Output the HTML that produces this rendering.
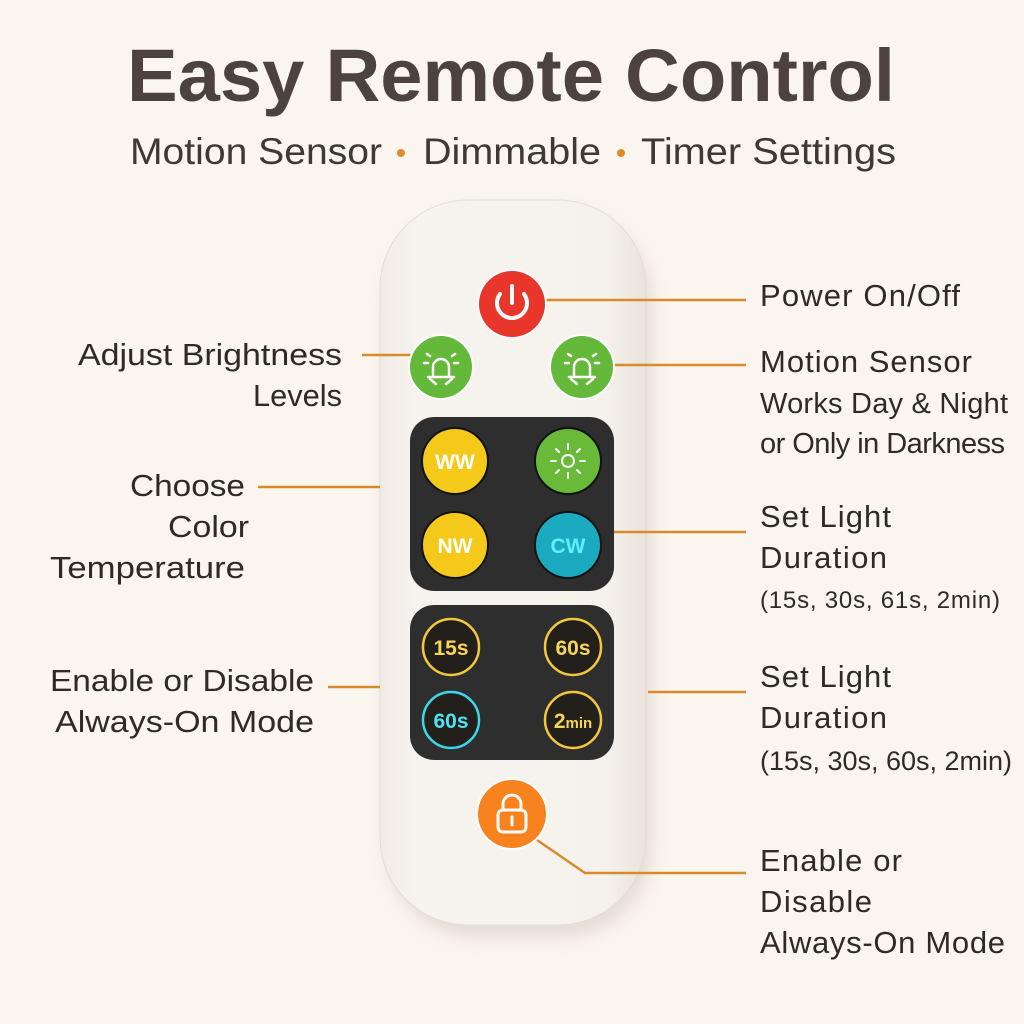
<!DOCTYPE html>
<html><head><meta charset="utf-8"><style>
html,body{margin:0;padding:0;background:#fbf5ef;}
svg{display:block}
text{font-family:"Liberation Sans",sans-serif;fill:#2e2a26}
</style></head><body>
<svg width="1024" height="1024" viewBox="0 0 1024 1024">
<defs>
<linearGradient id="body" x1="0" x2="1"><stop offset="0" stop-color="#f1ece6"/><stop offset="0.15" stop-color="#f7f3ee"/><stop offset="0.85" stop-color="#f5f1ec"/><stop offset="1" stop-color="#e9e3dc"/></linearGradient>
<filter id="sh" x="-20%" y="-10%" width="140%" height="130%"><feGaussianBlur stdDeviation="8"/></filter>
</defs>
<rect width="1024" height="1024" fill="#fbf5ef"/>
<text x="511" y="101" font-size="74" font-weight="bold" text-anchor="middle" textLength="768" lengthAdjust="spacingAndGlyphs" style="fill:#4b433c">Easy Remote Control</text>
<text x="130" y="164" font-size="37" textLength="252" lengthAdjust="spacingAndGlyphs" style="fill:#3e3934">Motion Sensor</text>
<circle cx="401" cy="153" r="4" fill="#e08a28"/>
<text x="423" y="164" font-size="37" textLength="178" lengthAdjust="spacingAndGlyphs" style="fill:#3e3934">Dimmable</text>
<circle cx="621" cy="153" r="4" fill="#e08a28"/>
<text x="641" y="164" font-size="37" textLength="255" lengthAdjust="spacingAndGlyphs" style="fill:#3e3934">Timer Settings</text>

<!-- remote -->
<rect x="386" y="212" width="266" height="725" rx="90" fill="#cfc6bb" opacity="0.5" filter="url(#sh)"/>
<rect x="380" y="200" width="266" height="725" rx="88" fill="url(#body)" stroke="#e4ddd5" stroke-width="1"/>

<!-- connectors -->
<g stroke="#d98a2b" stroke-width="2.5" fill="none">
<line x1="545" y1="300" x2="746" y2="300"/>
<line x1="362" y1="355" x2="412" y2="355"/>
<line x1="613" y1="365" x2="746" y2="365"/>
<line x1="258" y1="487" x2="380" y2="487"/>
<line x1="614" y1="532" x2="746" y2="532"/>
<line x1="328" y1="687" x2="380" y2="687"/>
<line x1="648" y1="692" x2="746" y2="692"/>
<polyline points="537,840 585,873 746,873"/>
</g>

<!-- power -->
<circle cx="512" cy="304" r="35" fill="#fff"/>
<circle cx="512" cy="304" r="33" fill="#e8362a"/>
<path d="M500 294 A15 15 0 1 0 524 294" stroke="#fff" stroke-width="4" fill="none" stroke-linecap="round"/>
<line x1="512" y1="286" x2="512" y2="303" stroke="#fff" stroke-width="4" stroke-linecap="round"/>

<!-- green buttons -->
<g>
<circle cx="441" cy="367" r="33" fill="#fff"/><circle cx="441" cy="367" r="31" fill="#64b83a"/>
<circle cx="582" cy="367" r="33" fill="#fff"/><circle cx="582" cy="367" r="31" fill="#64b83a"/>
<g stroke="#fff" stroke-width="2.5" fill="none" stroke-linecap="round">
<path d="M433 375 v-8 a8 8 0 0 1 16 0 v8 M428 377 h26 M436 384 l-6 -5 M446 384 l6 -5 M428 363 h-4 M454 363 h4 M430 356 l-3 -2 M452 356 l3 -2"/>
<path d="M574 375 v-8 a8 8 0 0 1 16 0 v8 M569 377 h26 M577 384 l-6 -5 M587 384 l6 -5 M569 363 h-4 M595 363 h4 M571 356 l-3 -2 M593 356 l3 -2"/>
</g>
</g>

<!-- panel 1 -->
<rect x="410" y="417" width="204" height="174" rx="24" fill="#2e2e2e"/>
<circle cx="455" cy="461" r="33" fill="#f4c91a" stroke="#111" stroke-width="2"/>
<circle cx="568" cy="461" r="33" fill="#68ba38" stroke="#111" stroke-width="2"/>
<circle cx="455" cy="545" r="33" fill="#f4c91a" stroke="#111" stroke-width="2"/>
<circle cx="568" cy="545" r="33" fill="#1aabc0" stroke="#111" stroke-width="2"/>
<text x="455" y="469" font-size="21" font-weight="bold" text-anchor="middle" style="fill:#fff">WW</text>
<text x="455" y="553" font-size="21" font-weight="bold" text-anchor="middle" style="fill:#fff">NW</text>
<text x="568" y="553" font-size="21" font-weight="bold" text-anchor="middle" style="fill:#5ff0ff">CW</text>
<g stroke="#fff" stroke-width="2" fill="none" stroke-linecap="round">
<circle cx="568" cy="461" r="6"/>
<path d="M556 461 h-5 M580 461 h5 M568 449 v-5 M568 473 v5 M559 452 l-3 -3 M577 452 l3 -3 M559 470 l-3 3 M577 470 l3 3"/>
</g>

<!-- panel 2 -->
<rect x="410" y="605" width="204" height="155" rx="24" fill="#2e2e2e"/>
<g stroke-width="2.5" fill="#231f1b">
<circle cx="451" cy="647" r="28" stroke="#f2c83c"/>
<circle cx="573" cy="647" r="28" stroke="#f2c83c"/>
<circle cx="451" cy="720" r="28" stroke="#3ad8ea"/>
<circle cx="573" cy="720" r="28" stroke="#f2c83c"/>
</g>
<text x="451" y="655" font-size="21" font-weight="bold" text-anchor="middle" style="fill:#f7d55a">15s</text>
<text x="573" y="655" font-size="21" font-weight="bold" text-anchor="middle" style="fill:#f7d55a">60s</text>
<text x="451" y="728" font-size="21" font-weight="bold" text-anchor="middle" style="fill:#4fe3f2">60s</text>
<text x="573" y="728" font-size="21" font-weight="bold" text-anchor="middle" style="fill:#f7d55a">2<tspan font-size="15">min</tspan></text>

<!-- lock -->
<circle cx="512" cy="814" r="36" fill="#fff"/>
<circle cx="512" cy="814" r="34" fill="#f7821e"/>
<g stroke="#fff" stroke-width="3" fill="none" stroke-linecap="round">
<rect x="498" y="810" width="28" height="22" rx="5"/>
<path d="M503 810 v-6 a9 9 0 0 1 18 0 v6"/>
<line x1="512" y1="817" x2="512" y2="825"/>
</g>

<!-- right labels -->
<g font-size="31" lengthAdjust="spacingAndGlyphs">
<text x="760" y="306" textLength="200">Power On/Off</text>
<text x="760" y="372" textLength="212">Motion Sensor</text>
<text x="760" y="413" font-size="29" textLength="248">Works Day &amp; Night</text>
<text x="760" y="453" font-size="29" textLength="245">or Only in Darkness</text>
<text x="760" y="527" textLength="131">Set Light</text>
<text x="760" y="568" textLength="127">Duration</text>
<text x="760" y="608" font-size="24" textLength="240">(15s, 30s, 61s, 2min)</text>
<text x="760" y="687" textLength="131">Set Light</text>
<text x="760" y="728" textLength="127">Duration</text>
<text x="760" y="770" font-size="27" textLength="252">(15s, 30s, 60s, 2min)</text>
<text x="760" y="871" textLength="142">Enable or</text>
<text x="760" y="912" textLength="112">Disable</text>
<text x="760" y="953" textLength="245">Always-On Mode</text>
</g>
<g font-size="31">
<text x="78" y="365" textLength="264" lengthAdjust="spacingAndGlyphs">Adjust Brightness</text>
<text x="253" y="406" textLength="89" lengthAdjust="spacingAndGlyphs">Levels</text>
<text x="130" y="496" textLength="115" lengthAdjust="spacingAndGlyphs">Choose</text>
<text x="168" y="537" textLength="81" lengthAdjust="spacingAndGlyphs">Color</text>
<text x="50" y="578" textLength="195" lengthAdjust="spacingAndGlyphs">Temperature</text>
<text x="50" y="691" textLength="264" lengthAdjust="spacingAndGlyphs">Enable or Disable</text>
<text x="55" y="732" textLength="259" lengthAdjust="spacingAndGlyphs">Always-On Mode</text>
</g>
</svg>
</body></html>
